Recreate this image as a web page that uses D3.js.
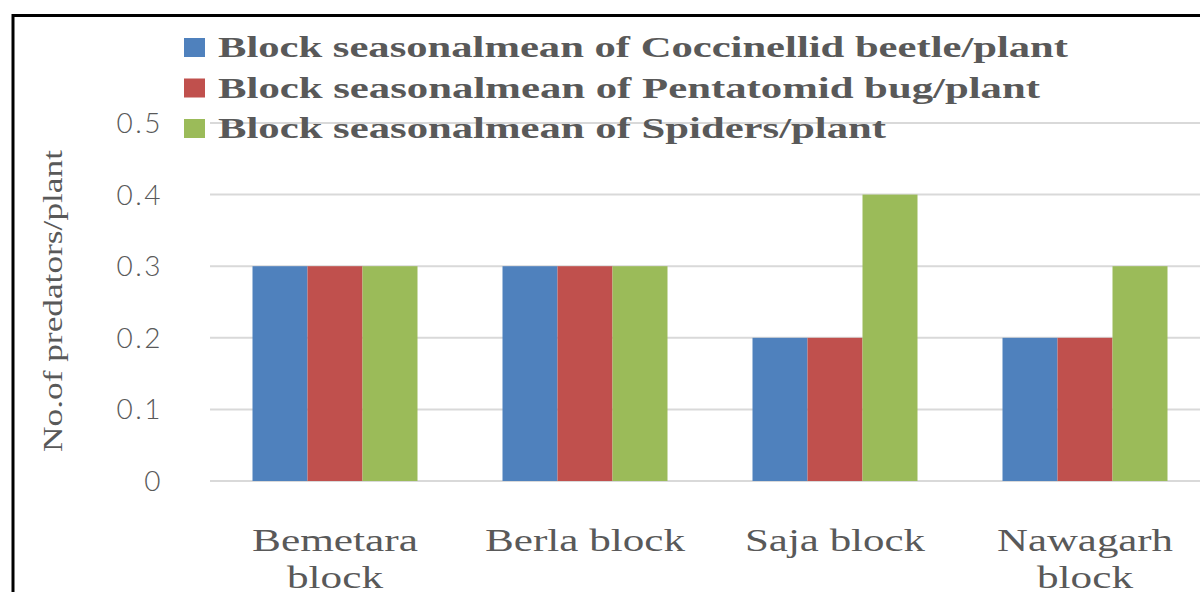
<!DOCTYPE html>
<html>
<head>
<meta charset="utf-8">
<script src="https://cdn.jsdelivr.net/npm/d3@7"></script>
<style>
  html, body { margin: 0; padding: 0; background: #fff; }
  svg { display: block; }
</style>
</head>
<body>
<svg id="chart" width="1200" height="592"></svg>
<script>
// Block names shown on the x axis (split over lines)
const categories = ["Bemetara block", "Berla block", "Saja block", "Nawagarh block"];
const categoryLines = [["Bemetara", "block"], ["Berla block"], ["Saja block"], ["Nawagarh", "block"]];
const categoryWidths = [[166, 96], [200], [180], [176, 96]];

// Series names and values (predators per plant)
const seriesNames = [
  "Block seasonalmean of Coccinellid beetle/plant",
  "Block seasonalmean of Pentatomid bug/plant",
  "Block seasonalmean of Spiders/plant"
];
const coccinellid = [0.3, 0.3, 0.2, 0.2];
const pentatomid = [0.3, 0.3, 0.2, 0.2];
const spiders = [0.3, 0.3, 0.4, 0.3];
const seriesValues = [coccinellid, pentatomid, spiders];
const seriesColors = ["#4F81BD", "#C0504D", "#9BBB59"];
const legendWidths = [850, 822, 668];

const yTicks = [0, 0.1, 0.2, 0.3, 0.4, 0.5];
const yTitle = "No.of predators/plant";

const svg = d3.select("#chart");

const plot = { left: 210, right: 1210, top: 123, bottom: 481 };

const x0 = d3.scaleBand()
  .domain(categories)
  .range([plot.left, plot.right])
  .paddingInner(0.34)
  .paddingOuter(0.17);

const x1 = d3.scaleBand()
  .domain(d3.range(seriesNames.length))
  .range([0, x0.bandwidth()]);

const y = d3.scaleLinear().domain([0, 0.5]).range([plot.bottom, plot.top]);

// Horizontal gridlines
svg.append("g")
  .selectAll("line")
  .data(yTicks)
  .join("line")
  .attr("x1", plot.left)
  .attr("x2", plot.right)
  .attr("y1", d => y(d))
  .attr("y2", d => y(d))
  .attr("stroke", "#D9D9D9")
  .attr("stroke-width", 2);

// Y axis tick labels
svg.append("g")
  .selectAll("text")
  .data(yTicks)
  .join("text")
  .attr("x", 163)
  .attr("y", d => y(d))
  .attr("dy", "0.36em")
  .attr("text-anchor", "end")
  .attr("font-family", "Lato, 'Liberation Sans', sans-serif")
  .attr("font-weight", 300)
  .attr("font-size", 28)
  .attr("letter-spacing", 2.5)
  .attr("fill", "#595959")
  .text(d => d === 0 ? "0" : d3.format(".1f")(d));

// Bars
const groups = svg.append("g")
  .selectAll("g")
  .data(categories)
  .join("g")
  .attr("transform", d => `translate(${x0(d)},0)`);

groups.selectAll("rect")
  .data((d, i) => seriesValues.map((vals, s) => ({ s, v: vals[i] })))
  .join("rect")
  .attr("x", d => x1(d.s))
  .attr("width", x1.bandwidth())
  .attr("y", d => y(d.v))
  .attr("height", d => y(0) - y(d.v))
  .attr("fill", d => seriesColors[d.s]);

// Category labels
const catLabels = svg.append("g")
  .selectAll("text")
  .data(categories)
  .join("text")
  .attr("font-family", "'Liberation Serif', 'Times New Roman', serif")
  .attr("font-size", 31)
  .attr("fill", "#595959")
  .attr("text-anchor", "middle");

catLabels.each(function(d, i) {
  const t = d3.select(this);
  categoryLines[i].forEach((line, j) => {
    t.append("tspan")
      .attr("x", x0(d) + x0.bandwidth() / 2)
      .attr("y", 551 + j * 37)
      .attr("textLength", categoryWidths[i][j])
      .attr("lengthAdjust", "spacingAndGlyphs")
      .text(line);
  });
});

// Y axis title
svg.append("text")
  .attr("transform", "translate(62,301) rotate(-90)")
  .attr("text-anchor", "middle")
  .attr("font-family", "'Liberation Serif', 'Times New Roman', serif")
  .attr("font-size", 28)
  .attr("fill", "#595959")
  .attr("textLength", 302)
  .attr("lengthAdjust", "spacingAndGlyphs")
  .text(yTitle);

// Legend
const legend = svg.append("g")
  .selectAll("g")
  .data(seriesNames)
  .join("g")
  .attr("transform", (d, i) => `translate(184,${47 + i * 40.5})`);

legend.append("rect")
  .attr("x", 0)
  .attr("y", -9)
  .attr("width", 21)
  .attr("height", 19)
  .attr("fill", (d, i) => seriesColors[i]);

legend.append("text")
  .attr("x", 34)
  .attr("y", 0)
  .attr("dy", "0.35em")
  .attr("font-family", "'Liberation Serif', 'Times New Roman', serif")
  .attr("font-weight", "bold")
  .attr("font-size", 29)
  .attr("fill", "#595959")
  .attr("textLength", (d, i) => legendWidths[i])
  .attr("lengthAdjust", "spacingAndGlyphs")
  .text(d => d);

// Frame around the chart area
svg.append("path")
  .attr("d", "M13,592 L13,15.5 L1200,15.5")
  .attr("fill", "none")
  .attr("stroke", "#000")
  .attr("stroke-width", 3);
</script>
</body>
</html>
